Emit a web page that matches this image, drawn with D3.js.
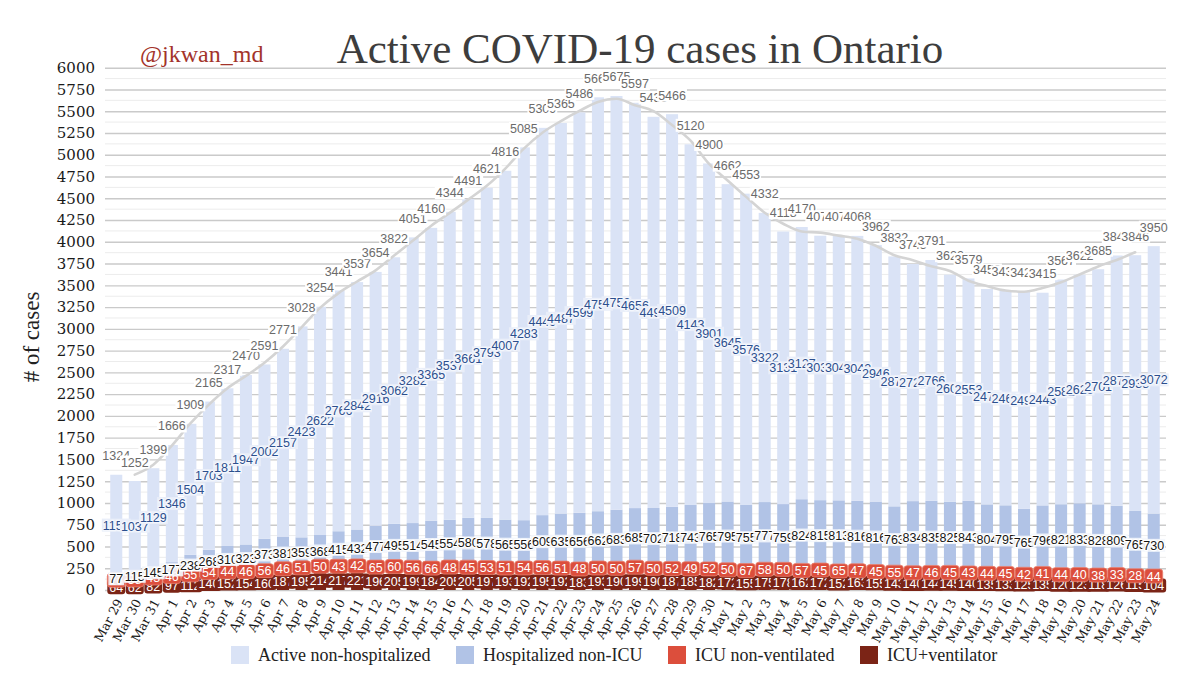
<!DOCTYPE html>
<html>
<head>
<meta charset="utf-8">
<script src="https://cdn.jsdelivr.net/npm/d3@7"></script>
<style>
  html, body { margin: 0; padding: 0; background: #ffffff; }
  svg { display: block; }
</style>
</head>
<body>
<svg id="chart" width="1200" height="690"></svg>
<script>
// ---------------- DATA ----------------
const dates = [
  "Mar 29","Mar 30","Mar 31",
  "Apr 1","Apr 2","Apr 3","Apr 4","Apr 5","Apr 6","Apr 7","Apr 8","Apr 9","Apr 10",
  "Apr 11","Apr 12","Apr 13","Apr 14","Apr 15","Apr 16","Apr 17","Apr 18","Apr 19","Apr 20",
  "Apr 21","Apr 22","Apr 23","Apr 24","Apr 25","Apr 26","Apr 27","Apr 28","Apr 29","Apr 30",
  "May 1","May 2","May 3","May 4","May 5","May 6","May 7","May 8","May 9","May 10",
  "May 11","May 12","May 13","May 14","May 15","May 16","May 17","May 18","May 19","May 20",
  "May 21","May 22","May 23","May 24"
];

// Active non-hospitalized
const nonHospitalized = [
  1157,1037,1129,
  1346,1504,1703,1811,1947,2002,2157,2423,2622,2766,
  2842,2916,3062,3282,3365,3537,3661,3793,4007,4283,
  4449,4487,4599,4755,4752,4656,4494,4509,4143,3901,
  3645,3576,3322,3131,3127,3038,3044,3042,2946,2871,
  2724,2766,2607,2553,2475,2464,2496,2443,2582,2626,
  2701,2875,2938,3072
];

// Hospitalized non-ICU
const hospNonICU = [
  77,115,145,
  177,238,268,310,323,373,381,359,368,415,
  432,477,495,514,545,554,580,578,565,556,
  609,635,656,662,683,685,702,718,743,765,
  795,755,777,759,824,815,813,816,816,763,
  834,835,825,843,804,795,765,796,821,833,
  828,809,765,730
];

// ICU non-ventilated
const icuNonVent = [
  26,38,43,
  46,55,54,44,46,56,46,51,50,43,
  42,65,60,56,66,48,45,53,51,54,
  56,51,48,50,50,57,50,52,49,52,
  50,67,58,50,57,45,65,47,45,55,
  47,46,45,43,44,45,42,41,44,40,
  38,33,28,44
];

// ICU + ventilator
const icuVent = [
  64,62,82,
  97,112,140,152,154,160,187,195,214,217,
  221,196,205,199,184,205,205,197,193,192,
  195,192,183,193,190,199,190,187,185,182,
  172,155,175,178,162,172,152,163,155,143,
  140,144,145,140,135,133,125,135,120,123,
  118,126,115,104
];

// Moving-average trend line of total active cases
const trendLine = [
  null,1325,1439,
  1658,1913,2130,2317,2459,2611,2797,3018,3241,3411,
  3544,3671,3842,4011,4185,4332,4485,4643,4841,5070,
  5253,5387,5504,5607,5644,5569,5500,5341,5162,4894,
  4705,4516,4334,4207,4119,4105,4071,4035,3954,3846,
  3789,3719,3664,3553,3491,3441,3427,3470,3535,3625,
  3717,3791,3880,null
];

const yTicks = [0,250,500,750,1000,1250,1500,1750,2000,2250,2500,2750,3000,
  3250,3500,3750,4000,4250,4500,4750,5000,5250,5500,5750,6000];

const seriesNames = ["ICU+ventilator","ICU non-ventilated","Hospitalized non-ICU","Active non-hospitalized"];
const legendNames = ["Active non-hospitalized","Hospitalized non-ICU","ICU non-ventilated","ICU+ventilator"];

// ---------------- STYLE ----------------
const colors = {
  "Active non-hospitalized": "#dae3f6",
  "Hospitalized non-ICU": "#b1c3e6",
  "ICU non-ventilated": "#dc4e3c",
  "ICU+ventilator": "#7b2416"
};
const serif = "'Liberation Serif', 'Times New Roman', serif";
const serifTick = "'DejaVu Serif', Georgia, serif";
const sans = "'Liberation Sans', Arial, Helvetica, sans-serif";

// ---------------- BUILD ----------------
const rows = dates.map((d, i) => ({
  date: d,
  "ICU+ventilator": icuVent[i],
  "ICU non-ventilated": icuNonVent[i],
  "Hospitalized non-ICU": hospNonICU[i],
  "Active non-hospitalized": nonHospitalized[i]
}));
const totals = rows.map(r => seriesNames.reduce((s, k) => s + r[k], 0));

const svg = d3.select("#chart");
svg.append("rect").attr("width", 1200).attr("height", 690).attr("fill", "#ffffff");

const x = d3.scaleBand().domain(dates).range([107, 1163]).paddingInner(0.35).paddingOuter(0.175);
const y = d3.scaleLinear().domain([0, 6000]).range([590, 67.7]);
const gridX0 = 105, gridX1 = 1166;

// minor gridlines
const minor = yTicks.slice(0, -1).map(v => v + 125);
svg.append("g").selectAll("line").data(minor).join("line")
  .attr("x1", gridX0).attr("x2", gridX1)
  .attr("y1", d => y(d)).attr("y2", d => y(d))
  .attr("stroke", "#ececec").attr("stroke-width", 1);

// major gridlines + y axis labels via axis
const yAxis = d3.axisLeft(y).tickValues(yTicks).tickSize(0).tickPadding(10).tickFormat(d3.format("d"));
const gy = svg.append("g").attr("transform", `translate(${gridX0},0)`).call(yAxis);
gy.select(".domain").remove();
gy.selectAll(".tick text")
  .attr("font-family", serifTick).attr("font-size", 15).attr("fill", "#1a1a1a");
gy.selectAll(".tick").append("line")
  .attr("x1", 0).attr("x2", gridX1 - gridX0)
  .attr("stroke", "#cacaca").attr("stroke-width", 1.4);

// bars
const stack = d3.stack().keys(seriesNames);
const stacked = stack(rows);
svg.append("g").selectAll("g").data(stacked).join("g")
  .attr("fill", s => colors[s.key])
  .selectAll("rect").data(s => s).join("rect")
  .attr("x", d => x(d.data.date))
  .attr("width", x.bandwidth())
  .attr("y", d => y(d[1]))
  .attr("height", d => y(d[0]) - y(d[1]));

// trend line
const line = d3.line()
  .defined(d => d.v !== null)
  .x(d => x(d.date) + x.bandwidth() / 2)
  .y(d => y(d.v))
  .curve(d3.curveMonotoneX);
svg.append("path")
  .datum(dates.map((d, i) => ({ date: d, v: trendLine[i] })))
  .attr("d", line)
  .attr("fill", "none")
  .attr("stroke", "#d4d4d4")
  .attr("stroke-width", 2.6)
  .attr("stroke-linecap", "round");

// x axis labels
const xAxis = d3.axisBottom(x).tickSize(0).tickPadding(0);
const gx = svg.append("g").attr("transform", "translate(0,596)").call(xAxis);
gx.select(".domain").remove();
gx.selectAll(".tick text")
  .attr("font-family", serifTick).attr("font-size", 12.5).attr("fill", "#1a1a1a")
  .attr("text-anchor", "end")
  .attr("dy", "0.35em")
  .attr("transform", "translate(3,4) rotate(-62)");

// ---------------- DATA LABELS ----------------
function labelLayer(seriesIdx, opts) {
  const s = stacked[seriesIdx];
  const g = svg.append("g");
  s.forEach((d, i) => {
    const cx = x(d.data.date) + x.bandwidth() / 2;
    const cy = opts.pos ? opts.pos(d, i) : (y(d[0]) + y(d[1])) / 2;
    const gg = g.append("g").attr("transform", `translate(${cx},${cy})`);
    const rect = gg.append("rect");
    const t = gg.append("text")
      .attr("text-anchor", "middle").attr("dy", "0.36em")
      .attr("font-family", sans).attr("font-size", opts.size || 12.5)
      .attr("fill", opts.color)
      .text(opts.value ? opts.value(d, i) : (d[1] - d[0]));
    if (opts.halo) {
      t.attr("stroke", opts.halo).attr("stroke-width", 2.4)
        .attr("stroke-linejoin", "round").attr("paint-order", "stroke");
    }
    const w = t.node().getComputedTextLength();
    const pad = opts.pad || 1;
    const hh = opts.h || 12;
    rect.attr("x", -w / 2 - pad).attr("y", -hh / 2)
      .attr("width", w + 2 * pad).attr("height", hh)
      .attr("rx", opts.rx || 0)
      .attr("fill", opts.bg).attr("fill-opacity", opts.bgOpacity == null ? 1 : opts.bgOpacity);
    if (opts.bgStroke) rect.attr("stroke", opts.bgStroke).attr("stroke-width", 0.8);
  });
}

// ICU + ventilator
labelLayer(0, { color: "#ffffff", bg: "#7b2416", rx: 3, pad: 2, h: 14, size: 12.5 });
// ICU non-ventilated
labelLayer(1, { color: "#ffffff", bg: "#dc4e3c", rx: 3, pad: 2, h: 14, size: 12.5, bgStroke: "#e8806f",
  pos: d => (y(d[0]) + y(d[1])) / 2 - 3 });
// Hospitalized non-ICU
labelLayer(2, { color: "#151515", bg: "#f3f6fc", bgOpacity: 0.9, halo: "#ffffff", pad: 1, h: 13 });
// Active non-hospitalized
labelLayer(3, { color: "#2c4f8e", bg: "#e9eef9", bgOpacity: 1, halo: "#f4f7fd", pad: 1, h: 13 });
// Totals
labelLayer(3, { color: "#6b6b6b", bg: "#ffffff", pad: 1, h: 13,
  pos: d => y(d[1]) - 19, value: (d, i) => totals[i] });

// ---------------- TITLES ----------------
svg.append("text")
  .attr("x", 640).attr("y", 63)
  .attr("text-anchor", "middle")
  .attr("font-family", serif).attr("font-size", 43)
  .attr("fill", "#3d3d3d")
  .text("Active COVID-19 cases in Ontario");

svg.append("text")
  .attr("x", 140).attr("y", 62)
  .attr("font-family", serif).attr("font-size", 24)
  .attr("fill", "#a3332a")
  .text("@jkwan_md");

svg.append("text")
  .attr("transform", "translate(39,337) rotate(-90)")
  .attr("text-anchor", "middle")
  .attr("font-family", serif).attr("font-size", 23)
  .attr("fill", "#222222")
  .text("# of cases");

// ---------------- LEGEND ----------------
const legendX = [231, 456, 668, 860];
const lg = svg.append("g");
legendNames.forEach((name, i) => {
  lg.append("rect")
    .attr("x", legendX[i]).attr("y", 646)
    .attr("width", 18).attr("height", 18)
    .attr("fill", colors[name]);
  lg.append("text")
    .attr("x", legendX[i] + 27).attr("y", 661)
    .attr("font-family", serif).attr("font-size", 18)
    .attr("fill", "#222222")
    .text(name);
});
</script>
</body>
</html>
